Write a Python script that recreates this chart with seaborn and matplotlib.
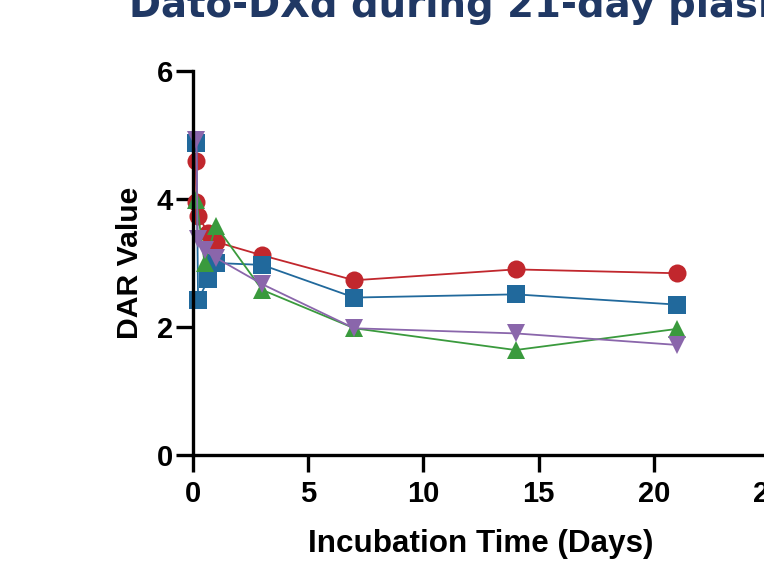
import matplotlib
matplotlib.use("Agg")
import matplotlib.pyplot as plt
import seaborn as sns
import pandas as pd

# ---- data ----
red_x = [0.12, 0.15, 0.22, 0.67, 1, 3, 7, 14, 21]
red_y = [4.60, 3.95, 3.73, 3.47, 3.33, 3.12, 2.73, 2.90, 2.84]

blue_x = [0.15, 0.22, 0.67, 1, 3, 7, 14, 21]
blue_y = [4.88, 2.42, 2.75, 3.00, 2.97, 2.46, 2.51, 2.35]

green_x = [0.15, 0.5, 1, 3, 7, 14, 21]
green_y = [3.98, 3.00, 3.58, 2.58, 1.98, 1.64, 1.97]

purple_x = [0.15, 0.2, 0.5, 1, 3, 7, 14, 21]
purple_y = [4.92, 3.38, 3.20, 3.08, 2.67, 1.98, 1.90, 1.72]

series_names = ["Lot 1", "Lot 2", "Lot 3", "Lot 4"]
colors = ["#c1272d", "#21699c", "#3a9a3d", "#8a66ab"]
marker_shapes = ["o", "s", "^", "v"]

x_ticks = [0, 5, 10, 15, 20, 25]
y_ticks = [0, 2, 4, 6]

title_text = "Dato-DXd during 21-day plasma incubation"
x_label = "Incubation Time (Days)"
y_label = "DAR Value"

# ---- build table ----
rows = []
for name, xs, ys in zip(series_names,
                        [red_x, blue_x, green_x, purple_x],
                        [red_y, blue_y, green_y, purple_y]):
    for i, (xv, yv) in enumerate(zip(xs, ys)):
        rows.append({"series": name, "time": xv, "dar": yv, "order": i})
df = pd.DataFrame(rows)

sns.set_theme(style="ticks")
plt.rcParams['font.family'] = ['Liberation Sans', 'DejaVu Sans']
plt.rcParams['text.color'] = 'black'
plt.rcParams['axes.labelcolor'] = 'black'
plt.rcParams['xtick.color'] = 'black'
plt.rcParams['ytick.color'] = 'black'

W, H = 764, 573
AX_L, AX_B, AX_R, AX_T = 193, 455, 769, 71
fig = plt.figure(figsize=(W / 100, H / 100), dpi=100)
ax = fig.add_axes([AX_L / W, (H - AX_B) / H, (AX_R - AX_L) / W, (AX_B - AX_T) / H])

sns.lineplot(data=df, x="time", y="dar", hue="series", style="series",
             hue_order=series_names, style_order=series_names,
             palette=dict(zip(series_names, colors)),
             markers=dict(zip(series_names, marker_shapes)),
             dashes=False, estimator=None, sort=False,
             markersize=13, linewidth=1.3, markeredgewidth=0,
             legend=False, ax=ax)

for ln in ax.lines:
    ln.set_clip_on(False)

ax.set_xlim(0, 25)
ax.set_ylim(0, 6)
ax.set_xticks(x_ticks)
ax.set_yticks(y_ticks)
ax.set_xticklabels([str(t) for t in x_ticks], fontsize=21, fontweight="bold",
                   color="black")
ax.set_yticklabels([str(t) for t in y_ticks], fontsize=21, fontweight="bold",
                   color="black")
ax.set_xlabel(x_label, fontsize=22.6, fontweight="bold", color="black",
              va="baseline")
ax.set_ylabel(y_label, fontsize=21.7, fontweight="bold", color="black")
ax.xaxis.set_label_coords(0.5, (AX_B - 551.7) / (AX_B - AX_T))
ax.yaxis.set_label_coords((144 - AX_L) / (AX_R - AX_L), 0.5)

sns.despine(ax=ax)
for side in ["left", "bottom"]:
    ax.spines[side].set_linewidth(2.4)
    ax.spines[side].set_color("black")
ax.tick_params(axis="both", which="major", length=12, width=2.4,
               direction="out", color="black", labelcolor="black")
ax.tick_params(axis="x", pad=6)
ax.tick_params(axis="y", pad=2.5)
ax.patch.set_alpha(0)

fig.text(129 / W, 1 - 17 / H, title_text, fontsize=27.8, fontweight="bold",
         color="#203864", family="DejaVu Sans", va="baseline", ha="left")

fig.savefig("out.png", dpi=100)
